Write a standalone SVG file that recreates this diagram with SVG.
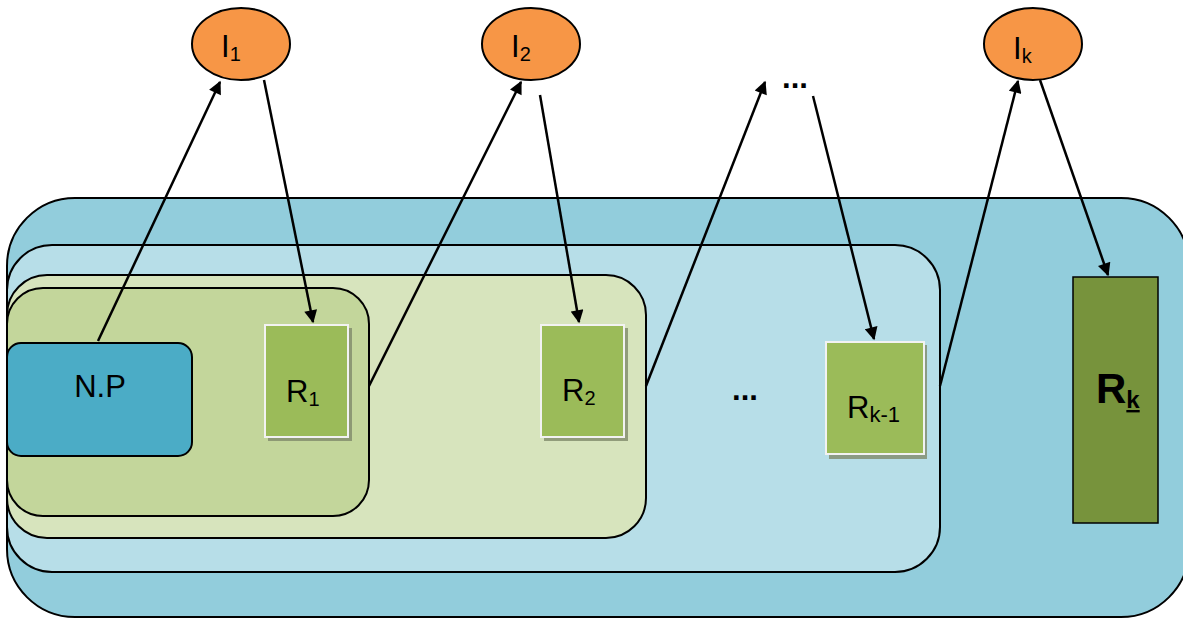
<svg xmlns="http://www.w3.org/2000/svg" width="1183" height="618" viewBox="0 0 1183 618">
  <defs>
    <marker id="arr" viewBox="0 0 10 10" refX="9" refY="5" markerWidth="15" markerHeight="13" markerUnits="userSpaceOnUse" orient="auto">
      <path d="M0,0 L10,5 L0,10 z" fill="#000"/>
    </marker>
    <style>
      text { font-family: "Liberation Sans", Arial, sans-serif; fill: #000; }
      .lbl { font-size: 31px; }
      .sub { font-size: 20px; }
      .box { stroke: #000; stroke-width: 2; }
      .res { fill: #9bbb59; stroke: #f2f2f2; stroke-width: 2; }
      .shadow { fill: #7f8a6a; opacity: 0.8; }
      .ell { fill: #f79646; stroke: #000; stroke-width: 2; }
      .conn { stroke: #000; stroke-width: 2.5; fill: none; }
    </style>
  </defs>

  <!-- nested containers -->
  <g id="level-k">
    <rect class="box" x="7" y="198" width="1182" height="419" rx="68" ry="68" fill="#92cddc"/>
  </g>
  <g id="level-k-1">
    <rect class="box" x="7" y="245" width="933" height="327" rx="45" ry="45" fill="#b7dee8"/>
  </g>
  <g id="level-2">
    <rect class="box" x="7" y="275" width="639" height="263" rx="40" ry="40" fill="#d7e4bd"/>
  </g>
  <g id="level-1">
    <rect class="box" x="7" y="288" width="362" height="228" rx="36" ry="36" fill="#c3d69b"/>
  </g>

  <g id="np">
    <rect class="box" x="7" y="343" width="185" height="113" rx="14" ry="14" fill="#4bacc6"/>
    <text class="lbl" x="100" y="397" text-anchor="middle">N.P</text>
  </g>

  <g id="r1">
    <rect class="shadow" x="268" y="328" width="84" height="113"/>
    <rect class="res" x="265" y="325" width="83" height="112"/>
    <text class="lbl" x="286" y="402">R<tspan class="sub" dy="4">1</tspan></text>
  </g>

  <g id="r2">
    <rect class="shadow" x="544" y="328" width="84" height="113"/>
    <rect class="res" x="541" y="325" width="83" height="112"/>
    <text class="lbl" x="562" y="401">R<tspan class="sub" dy="4">2</tspan></text>
  </g>

  <g id="dots-mid">
    <text class="lbl" x="745" y="400" font-weight="bold" text-anchor="middle">...</text>
  </g>

  <g id="rk-1">
    <rect class="shadow" x="829" y="345" width="98" height="114"/>
    <rect class="res" x="826" y="342" width="98" height="112"/>
    <text class="lbl" x="847" y="418">R<tspan font-size="22" dy="4">k-1</tspan></text>
  </g>

  <g id="rk">
    <rect x="1073" y="277" width="85" height="246" fill="#77933c" stroke="#000" stroke-width="1.5"/>
    <text x="1096" y="403" font-size="42" font-weight="bold">R<tspan font-size="24" dy="5" text-decoration="underline">k</tspan></text>
  </g>

  <g id="i1">
    <ellipse class="ell" cx="241" cy="44" rx="49" ry="36"/>
    <text class="lbl" x="221" y="57">I<tspan class="sub" dy="4">1</tspan></text>
  </g>
  <g id="i2">
    <ellipse class="ell" cx="531" cy="44" rx="49" ry="36"/>
    <text class="lbl" x="511" y="57">I<tspan class="sub" dy="4">2</tspan></text>
  </g>
  <g id="dots-top">
    <text class="lbl" x="795" y="88" font-weight="bold" text-anchor="middle">...</text>
  </g>
  <g id="ik">
    <ellipse class="ell" cx="1033" cy="44" rx="49" ry="36"/>
    <text class="lbl" x="1013" y="59">I<tspan class="sub" dy="4">k</tspan></text>
  </g>

  <!-- connectors -->
  <g id="connectors">
    <line class="conn" x1="98" y1="341" x2="220" y2="82" marker-end="url(#arr)"/>
    <line class="conn" x1="264" y1="80" x2="313" y2="322" marker-end="url(#arr)"/>
    <line class="conn" x1="369" y1="386" x2="521" y2="82" marker-end="url(#arr)"/>
    <line class="conn" x1="540" y1="95" x2="579" y2="322" marker-end="url(#arr)"/>
    <line class="conn" x1="646" y1="386" x2="765" y2="82" marker-end="url(#arr)"/>
    <line class="conn" x1="813" y1="96" x2="874" y2="339" marker-end="url(#arr)"/>
    <line class="conn" x1="940" y1="386" x2="1018" y2="81" marker-end="url(#arr)"/>
    <line class="conn" x1="1040" y1="80" x2="1108" y2="275" marker-end="url(#arr)"/>
  </g>
</svg>
